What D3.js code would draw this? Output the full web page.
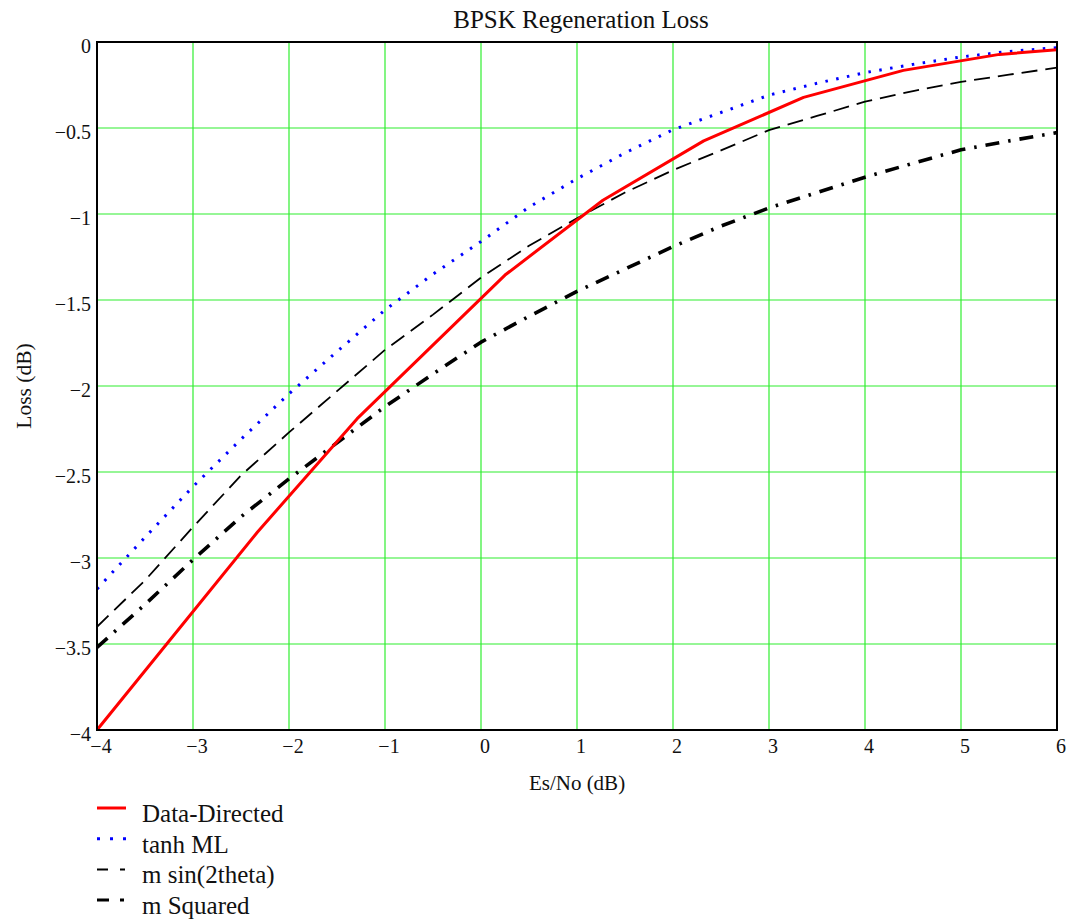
<!DOCTYPE html>
<html>
<head>
<meta charset="utf-8">
<script src="https://cdn.jsdelivr.net/npm/d3@7"></script>
<style>
  html, body { margin: 0; padding: 0; background: #fff; }
  svg { display: block; font-family: "Liberation Serif", "Times New Roman", serif; }
</style>
</head>
<body>
<svg id="chart" width="1070" height="923"></svg>
<script>
// Es/No grid (dB) shared by three of the estimators
const esno = [-4, -3.5, -3, -2.5, -2, -1.5, -1, -0.5, 0, 0.5, 1, 1.5, 2, 2.5, 3, 3.5, 4, 4.5, 5, 5.5, 6];

// Data-directed loss is sampled at its own Es/No points
const ddEsno = [-4, -2.33, -1.29, 0.25, 1.27, 2.32, 3.36, 4.4, 5.4, 6];
const ddLoss = [-4, -2.85, -2.19, -1.355, -0.92, -0.575, -0.322, -0.165, -0.072, -0.045];

const tanhLoss = [-3.18, -2.88, -2.585, -2.31, -2.045, -1.80, -1.558, -1.35, -1.16, -0.96, -0.795,
                  -0.645, -0.51, -0.41, -0.309, -0.24, -0.178, -0.13, -0.087, -0.055, -0.033];
const sin2Loss = [-3.40, -3.13, -2.82, -2.52, -2.27, -2.03, -1.79, -1.585, -1.37, -1.185, -1.025,
                  -0.875, -0.745, -0.63, -0.512, -0.43, -0.347, -0.285, -0.232, -0.19, -0.149];
const sqLoss   = [-3.52, -3.27, -3.01, -2.76, -2.54, -2.33, -2.12, -1.93, -1.745, -1.595, -1.45,
                  -1.32, -1.19, -1.07, -0.965, -0.875, -0.786, -0.705, -0.627, -0.575, -0.527];

const seriesNames = ["Data-Directed", "tanh ML", "m sin(2theta)", "m Squared"];
const xTicks = [-4, -3, -2, -1, 0, 1, 2, 3, 4, 5, 6];
const yTicks = [0, -0.5, -1, -1.5, -2, -2.5, -3, -3.5, -4];

const svg = d3.select("#chart");
const m = { left: 97, right: 1057, top: 42, bottom: 730 };

const x = d3.scaleLinear().domain([-4, 6]).range([m.left, m.right]);
const y = d3.scaleLinear().domain([-4, 0]).range([m.bottom, m.top]);

const fmt = v => (v < 0 ? "\u2212" : "") + Math.abs(v);

// grid
const grid = svg.append("g").attr("stroke", "#2fee2f").attr("stroke-width", 1.2);
grid.selectAll("line.v").data(xTicks.slice(1, -1)).join("line")
  .attr("x1", d => x(d)).attr("x2", d => x(d))
  .attr("y1", m.top).attr("y2", m.bottom);
grid.selectAll("line.h").data(yTicks.slice(1, -1)).join("line")
  .attr("x1", m.left).attr("x2", m.right)
  .attr("y1", d => y(d)).attr("y2", d => y(d));

// series
const styles = [
  { color: "#ff0000", width: 3, dash: null },
  { color: "#0000ff", width: 3, dash: "2.5,8.5" },
  { color: "#000000", width: 1.8, dash: "16,8" },
  { color: "#000000", width: 3.6, dash: "14,9,2.5,9" }
];
const series = [
  ddEsno.map((v, i) => [v, ddLoss[i]]),
  esno.map((v, i) => [v, tanhLoss[i]]),
  esno.map((v, i) => [v, sin2Loss[i]]),
  esno.map((v, i) => [v, sqLoss[i]])
];

svg.append("clipPath").attr("id", "plotClip").append("rect")
  .attr("x", m.left).attr("y", m.top - 2)
  .attr("width", m.right - m.left).attr("height", m.bottom - m.top + 4);

const line = d3.line().x(d => x(d[0])).y(d => y(d[1]));
const plot = svg.append("g").attr("clip-path", "url(#plotClip)");
// draw from back to front so the solid red curve sits on top
[3, 2, 1, 0].forEach(i => {
  plot.append("path")
    .datum(series[i])
    .attr("d", line)
    .attr("fill", "none")
    .attr("stroke", styles[i].color)
    .attr("stroke-width", styles[i].width)
    .attr("stroke-dasharray", styles[i].dash)
    .attr("stroke-linejoin", "round");
});

// frame
svg.append("rect")
  .attr("x", m.left).attr("y", m.top)
  .attr("width", m.right - m.left).attr("height", m.bottom - m.top)
  .attr("fill", "none").attr("stroke", "#000").attr("stroke-width", 2);

// axes (labels only; frame drawn above)
const xAxis = d3.axisBottom(x).tickValues(xTicks).tickSize(0).tickFormat(fmt);
const gx = svg.append("g").attr("transform", `translate(3.5,${m.bottom})`).call(xAxis);
gx.select(".domain").remove();
gx.selectAll("text").attr("dy", null).attr("y", 23)
  .attr("font-size", 20).attr("font-family", "Liberation Serif").attr("fill", "#111");

const yAxis = d3.axisLeft(y).tickValues(yTicks).tickSize(0).tickFormat(fmt);
const gy = svg.append("g").attr("transform", `translate(${m.left - 6},0)`).call(yAxis);
gy.select(".domain").remove();
gy.selectAll("text").attr("dy", null).attr("x", 0).attr("y", 10)
  .attr("font-size", 20).attr("font-family", "Liberation Serif").attr("fill", "#111");

// titles
svg.append("text").attr("x", (m.left + m.right) / 2 + 4).attr("y", 28)
  .attr("text-anchor", "middle").attr("font-size", 25).attr("fill", "#111")
  .text("BPSK Regeneration Loss");
svg.append("text").attr("x", (m.left + m.right) / 2).attr("y", 790)
  .attr("text-anchor", "middle").attr("font-size", 21).attr("fill", "#111")
  .text("Es/No (dB)");
svg.append("text")
  .attr("transform", `translate(31,${(m.top + m.bottom) / 2}) rotate(-90)`)
  .attr("text-anchor", "middle").attr("font-size", 21.5).attr("fill", "#111")
  .text("Loss (dB)");

// legend
const legend = svg.append("g");
seriesNames.forEach((name, i) => {
  const yy = 808 + i * 30.7;
  legend.append("line")
    .attr("x1", 97).attr("x2", 126).attr("y1", yy).attr("y2", yy)
    .attr("stroke", styles[i].color)
    .attr("stroke-width", i === 2 ? 2 : 3)
    .attr("stroke-dasharray", i === 1 ? "3,10" : i === 2 ? "11,12,5" : i === 3 ? "12,11,4" : null);
  legend.append("text").attr("x", 142).attr("y", yy + 14)
    .attr("font-size", 25).attr("fill", "#111").text(name);
});
</script>
</body>
</html>
